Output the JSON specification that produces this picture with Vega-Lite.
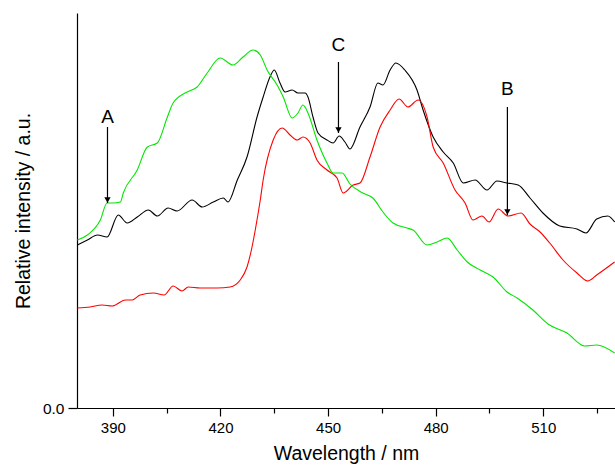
{
  "$schema": "https://vega.github.io/schema/vega-lite/v6.json",
  "width": 538,
  "height": 395,
  "autosize": {"type": "none"},
  "padding": {"left": 77, "top": 13, "right": 0, "bottom": 60},
  "background": "white",
  "view": {"stroke": null},
  "config": {
    "font": "Liberation Sans",
    "axis": {"domainColor": "black", "tickColor": "black", "labelColor": "black", "titleColor": "black", "titleFontWeight": "normal", "labelFont": "Liberation Sans", "titleFont": "Liberation Sans", "grid": false, "domainWidth": 1.2, "tickWidth": 1.2}
  },
  "datasets": {
    "spectra": [
      {"s": "black", "x": 380.1, "y": 1.63}, {"s": "black", "x": 382.9, "y": 1.68}, {"s": "black", "x": 385.7, "y": 1.73}, {"s": "black", "x": 388.4, "y": 1.71},
      {"s": "black", "x": 391.5, "y": 1.93}, {"s": "black", "x": 394.0, "y": 1.85}, {"s": "black", "x": 396.8, "y": 1.91}, {"s": "black", "x": 399.9, "y": 1.98},
      {"s": "black", "x": 402.4, "y": 1.92}, {"s": "black", "x": 405.4, "y": 2.00}, {"s": "black", "x": 407.9, "y": 1.97}, {"s": "black", "x": 412.1, "y": 2.08},
      {"s": "black", "x": 414.9, "y": 2.01}, {"s": "black", "x": 418.0, "y": 2.06}, {"s": "black", "x": 420.8, "y": 2.10}, {"s": "black", "x": 422.1, "y": 2.06},
      {"s": "black", "x": 424.7, "y": 2.28}, {"s": "black", "x": 427.4, "y": 2.51}, {"s": "black", "x": 430.2, "y": 2.91}, {"s": "black", "x": 431.9, "y": 3.11},
      {"s": "black", "x": 433.8, "y": 3.31}, {"s": "black", "x": 435.0, "y": 3.38}, {"s": "black", "x": 436.6, "y": 3.25}, {"s": "black", "x": 438.0, "y": 3.16},
      {"s": "black", "x": 440.0, "y": 3.18}, {"s": "black", "x": 441.6, "y": 3.15}, {"s": "black", "x": 443.6, "y": 3.15}, {"s": "black", "x": 444.4, "y": 3.11},
      {"s": "black", "x": 445.8, "y": 2.91}, {"s": "black", "x": 447.2, "y": 2.75}, {"s": "black", "x": 449.7, "y": 2.68}, {"s": "black", "x": 451.4, "y": 2.65},
      {"s": "black", "x": 453.1, "y": 2.72}, {"s": "black", "x": 454.7, "y": 2.66}, {"s": "black", "x": 456.1, "y": 2.59}, {"s": "black", "x": 458.9, "y": 2.81},
      {"s": "black", "x": 461.7, "y": 3.01}, {"s": "black", "x": 463.9, "y": 3.25}, {"s": "black", "x": 465.3, "y": 3.23}, {"s": "black", "x": 467.3, "y": 3.38},
      {"s": "black", "x": 468.9, "y": 3.45}, {"s": "black", "x": 471.4, "y": 3.38}, {"s": "black", "x": 474.8, "y": 3.18}, {"s": "black", "x": 476.5, "y": 2.98},
      {"s": "black", "x": 479.3, "y": 2.71}, {"s": "black", "x": 482.1, "y": 2.56}, {"s": "black", "x": 484.9, "y": 2.45}, {"s": "black", "x": 487.7, "y": 2.25},
      {"s": "black", "x": 491.0, "y": 2.28}, {"s": "black", "x": 494.3, "y": 2.18}, {"s": "black", "x": 497.1, "y": 2.27}, {"s": "black", "x": 499.9, "y": 2.25},
      {"s": "black", "x": 503.0, "y": 2.23}, {"s": "black", "x": 506.3, "y": 2.10}, {"s": "black", "x": 509.9, "y": 1.95}, {"s": "black", "x": 514.6, "y": 1.82},
      {"s": "black", "x": 519.4, "y": 1.79}, {"s": "black", "x": 521.9, "y": 1.75}, {"s": "black", "x": 524.9, "y": 1.89}, {"s": "black", "x": 528.0, "y": 1.92},
      {"s": "black", "x": 529.9, "y": 1.86},

      {"s": "red", "x": 380.1, "y": 1.00}, {"s": "red", "x": 383.7, "y": 1.01}, {"s": "red", "x": 387.0, "y": 1.03}, {"s": "red", "x": 389.8, "y": 1.02},
      {"s": "red", "x": 393.5, "y": 1.08}, {"s": "red", "x": 395.4, "y": 1.08}, {"s": "red", "x": 397.6, "y": 1.13}, {"s": "red", "x": 401.3, "y": 1.15},
      {"s": "red", "x": 404.3, "y": 1.13}, {"s": "red", "x": 406.8, "y": 1.22}, {"s": "red", "x": 409.3, "y": 1.17}, {"s": "red", "x": 411.0, "y": 1.21},
      {"s": "red", "x": 414.3, "y": 1.20}, {"s": "red", "x": 419.1, "y": 1.20}, {"s": "red", "x": 422.7, "y": 1.21}, {"s": "red", "x": 425.5, "y": 1.28},
      {"s": "red", "x": 427.4, "y": 1.41}, {"s": "red", "x": 428.8, "y": 1.61}, {"s": "red", "x": 429.7, "y": 1.78}, {"s": "red", "x": 431.1, "y": 2.08},
      {"s": "red", "x": 431.9, "y": 2.28}, {"s": "red", "x": 434.7, "y": 2.68}, {"s": "red", "x": 437.2, "y": 2.80}, {"s": "red", "x": 439.4, "y": 2.73},
      {"s": "red", "x": 441.4, "y": 2.68}, {"s": "red", "x": 443.0, "y": 2.71}, {"s": "red", "x": 445.0, "y": 2.65}, {"s": "red", "x": 446.9, "y": 2.48},
      {"s": "red", "x": 449.7, "y": 2.38}, {"s": "red", "x": 452.5, "y": 2.30}, {"s": "red", "x": 454.2, "y": 2.15}, {"s": "red", "x": 457.0, "y": 2.23},
      {"s": "red", "x": 458.9, "y": 2.25}, {"s": "red", "x": 461.7, "y": 2.51}, {"s": "red", "x": 464.5, "y": 2.81}, {"s": "red", "x": 467.3, "y": 2.98},
      {"s": "red", "x": 469.8, "y": 3.09}, {"s": "red", "x": 472.3, "y": 3.01}, {"s": "red", "x": 475.1, "y": 3.08}, {"s": "red", "x": 477.6, "y": 2.91},
      {"s": "red", "x": 479.3, "y": 2.61}, {"s": "red", "x": 482.1, "y": 2.45}, {"s": "red", "x": 485.4, "y": 2.18}, {"s": "red", "x": 488.2, "y": 2.05},
      {"s": "red", "x": 490.4, "y": 1.88}, {"s": "red", "x": 492.9, "y": 1.92}, {"s": "red", "x": 494.9, "y": 1.86}, {"s": "red", "x": 497.4, "y": 1.99},
      {"s": "red", "x": 500.2, "y": 1.92}, {"s": "red", "x": 503.8, "y": 1.95}, {"s": "red", "x": 506.3, "y": 1.84}, {"s": "red", "x": 509.1, "y": 1.76},
      {"s": "red", "x": 511.8, "y": 1.65}, {"s": "red", "x": 515.5, "y": 1.48}, {"s": "red", "x": 519.4, "y": 1.35}, {"s": "red", "x": 522.4, "y": 1.27},
      {"s": "red", "x": 524.9, "y": 1.33}, {"s": "red", "x": 529.9, "y": 1.46},

      {"s": "green", "x": 380.1, "y": 1.68}, {"s": "green", "x": 382.9, "y": 1.73}, {"s": "green", "x": 386.5, "y": 1.88}, {"s": "green", "x": 388.4, "y": 2.05},
      {"s": "green", "x": 390.1, "y": 2.05}, {"s": "green", "x": 392.1, "y": 2.06}, {"s": "green", "x": 392.9, "y": 2.15}, {"s": "green", "x": 396.8, "y": 2.38},
      {"s": "green", "x": 399.6, "y": 2.61}, {"s": "green", "x": 402.4, "y": 2.65}, {"s": "green", "x": 405.2, "y": 2.91}, {"s": "green", "x": 406.8, "y": 3.05},
      {"s": "green", "x": 410.7, "y": 3.16}, {"s": "green", "x": 413.5, "y": 3.21}, {"s": "green", "x": 416.3, "y": 3.35}, {"s": "green", "x": 419.9, "y": 3.50},
      {"s": "green", "x": 423.5, "y": 3.43}, {"s": "green", "x": 426.3, "y": 3.51}, {"s": "green", "x": 429.1, "y": 3.58}, {"s": "green", "x": 431.1, "y": 3.53},
      {"s": "green", "x": 433.0, "y": 3.38}, {"s": "green", "x": 435.8, "y": 3.23}, {"s": "green", "x": 437.5, "y": 3.11}, {"s": "green", "x": 440.0, "y": 2.90},
      {"s": "green", "x": 441.6, "y": 2.95}, {"s": "green", "x": 443.0, "y": 3.03}, {"s": "green", "x": 444.4, "y": 2.95}, {"s": "green", "x": 446.9, "y": 2.68},
      {"s": "green", "x": 449.7, "y": 2.45}, {"s": "green", "x": 451.4, "y": 2.35}, {"s": "green", "x": 453.9, "y": 2.35}, {"s": "green", "x": 456.1, "y": 2.24},
      {"s": "green", "x": 459.7, "y": 2.15}, {"s": "green", "x": 462.5, "y": 2.10}, {"s": "green", "x": 465.3, "y": 1.96}, {"s": "green", "x": 468.1, "y": 1.85},
      {"s": "green", "x": 472.0, "y": 1.80}, {"s": "green", "x": 473.7, "y": 1.78}, {"s": "green", "x": 477.6, "y": 1.63}, {"s": "green", "x": 480.4, "y": 1.66},
      {"s": "green", "x": 483.2, "y": 1.70}, {"s": "green", "x": 486.0, "y": 1.58}, {"s": "green", "x": 488.8, "y": 1.46}, {"s": "green", "x": 492.4, "y": 1.38},
      {"s": "green", "x": 496.0, "y": 1.31}, {"s": "green", "x": 499.9, "y": 1.16}, {"s": "green", "x": 502.7, "y": 1.10}, {"s": "green", "x": 507.1, "y": 0.98},
      {"s": "green", "x": 511.3, "y": 0.84}, {"s": "green", "x": 516.6, "y": 0.75}, {"s": "green", "x": 521.6, "y": 0.62}, {"s": "green", "x": 524.9, "y": 0.63},
      {"s": "green", "x": 529.9, "y": 0.55}
    ],
    "notes": [
      {"label": "A", "x": 388.5, "ytext": 2.91, "ystart": 2.81, "yend": 2.05},
      {"label": "C", "x": 452.9, "ytext": 3.63, "ystart": 3.46, "yend": 2.75},
      {"label": "B", "x": 500.0, "ytext": 3.19, "ystart": 3.01, "yend": 1.93}
    ]
  },
  "layer": [
    {
      "data": {"name": "spectra"},
      "mark": {"type": "line", "strokeWidth": 1.1, "interpolate": "monotone", "clip": true},
      "encoding": {
        "x": {
          "field": "x", "type": "quantitative",
          "scale": {"domain": [380, 530], "nice": false, "zero": false},
          "axis": {
            "values": [390, 405, 420, 435, 450, 465, 480, 495, 510, 525],
            "labelExpr": "datum.value % 30 == 0 ? datum.label : ''",
            "tickSize": {"condition": {"test": "datum.value % 30 == 0", "value": 8}, "value": 5},
            "labelFontSize": 15, "labelPadding": 4,
            "title": "Wavelength / nm", "titleFontSize": 19.5, "titlePadding": 9
          }
        },
        "y": {
          "field": "y", "type": "quantitative",
          "scale": {"domain": [0, 3.95], "nice": false},
          "axis": {
            "values": [0], "format": ".1f", "tickSize": 9,
            "labelFontSize": 15.5, "labelPadding": 4,
            "title": "Relative intensity / a.u.", "titleFontSize": 19.5, "titlePadding": 9
          }
        },
        "color": {"field": "s", "type": "nominal", "scale": {"domain": ["black", "red", "green"], "range": ["#000000", "#ff0000", "#00e600"]}, "legend": null},
        "detail": {"field": "s"}
      }
    },
    {
      "data": {"name": "notes"},
      "mark": {"type": "rule", "color": "black", "strokeWidth": 1.2},
      "encoding": {
        "x": {"field": "x", "type": "quantitative"},
        "y": {"field": "ystart", "type": "quantitative"},
        "y2": {"field": "yend"}
      }
    },
    {
      "data": {"name": "notes"},
      "mark": {"type": "point", "shape": "triangle-down", "filled": true, "color": "black", "size": 40, "opacity": 1, "yOffset": -3},
      "encoding": {
        "x": {"field": "x", "type": "quantitative"},
        "y": {"field": "yend", "type": "quantitative"}
      }
    },
    {
      "data": {"name": "notes"},
      "mark": {"type": "text", "fontSize": 19, "font": "Liberation Sans", "color": "black", "baseline": "middle", "align": "center"},
      "encoding": {
        "x": {"field": "x", "type": "quantitative"},
        "y": {"field": "ytext", "type": "quantitative"},
        "text": {"field": "label"}
      }
    }
  ]
}
